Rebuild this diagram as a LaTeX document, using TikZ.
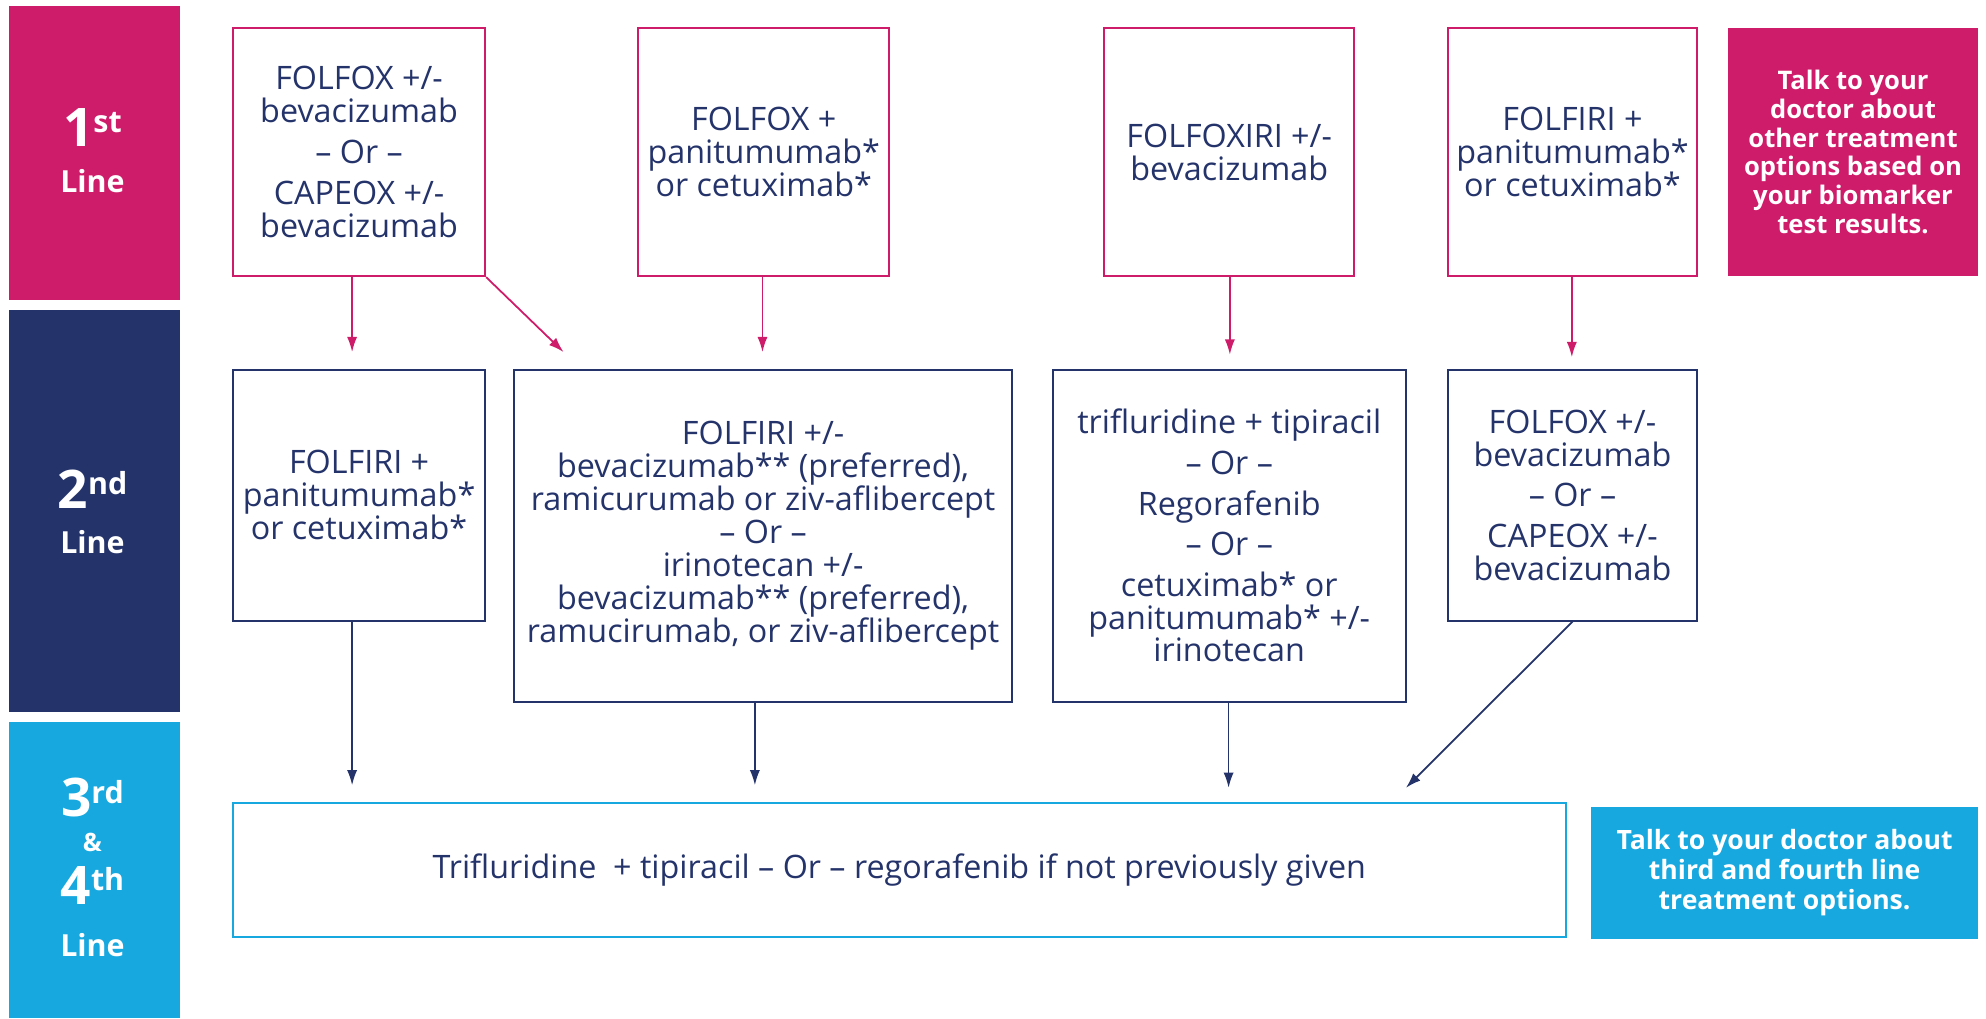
\documentclass[tikz,border=0pt]{standalone}
\usepackage{fontspec}
\setmainfont{Open Sans}
\usetikzlibrary{arrows.meta}
\definecolor{pinkc}{RGB}{207,28,106}
\definecolor{navyc}{RGB}{36,51,106}
\definecolor{bluec}{RGB}{22,168,223}
\tikzset{
  bar/.style={draw=none,inner sep=0pt},
  opt/.style={draw,line width=1.6pt,inner sep=0pt,align=center,text=navyc,
    font=\fontsize{25.5}{26}\selectfont},
  pinkbox/.style={opt,draw=pinkc},
  navybox/.style={opt,draw=navyc},
  bluebox/.style={opt,draw=bluec},
  note/.style={inner sep=0pt,align=center,text=white,
    font=\bfseries\fontsize{20.2}{22.6}\selectfont},
  lbl/.style={text=white,inner sep=0pt,align=center},
  pinkarrow/.style={draw=pinkc,line width=1.4pt,-{Latex[length=12pt,width=8pt]}},
  navyarrow/.style={draw=navyc,line width=1.4pt,-{Latex[length=12pt,width=8pt]}},
}
\newcommand{\ordlbl}[2]{{\bfseries\fontsize{42}{42}\selectfont #1\raisebox{11pt}{\fontsize{24}{24}\selectfont #2}}}
\newcommand{\linelbl}{{\bfseries\fontsize{24}{24}\selectfont Line}}
\begin{document}
\begin{tikzpicture}[x=1pt,y=-1pt]
\useasboundingbox (0,0) rectangle (1568,804);
% left bars
\node[bar,fill=pinkc,minimum width=135pt,minimum height=232pt] (b1) at (74.5,121) {};
\node[bar,fill=navyc,minimum width=135pt,minimum height=317pt] (b2) at (74.5,403.5) {};
\node[bar,fill=bluec,minimum width=135pt,minimum height=234pt] (b3) at (74.5,687) {};
\node[lbl] (l1a) at (73,101) {\ordlbl{1}{st}};
\node[lbl] (l1b) at (73,143) {\linelbl};
\node[lbl] (l2a) at (73,386) {\ordlbl{2}{nd}};
\node[lbl] (l2b) at (73,428) {\linelbl};
\node[lbl] (l3a) at (73,630) {\ordlbl{3}{rd}};
\node[lbl] (l3amp) at (73,665) {\bfseries\fontsize{20}{20}\selectfont\&};
\node[lbl] (l4a) at (73,699) {\ordlbl{4}{th}};
\node[lbl] (l4b) at (73,746) {\linelbl};
% row 1
\node[pinkbox,minimum width=199pt,minimum height=196pt] (A) at (283.5,120)
  {FOLFOX +/-\\bevacizumab\\[6.5pt]– Or –\\[6.5pt]CAPEOX +/-\\bevacizumab};
\node[pinkbox,minimum width=198pt,minimum height=196pt] (B) at (603,120)
  {FOLFOX +\\panitumumab*\\or cetuximab*};
\node[pinkbox,minimum width=197pt,minimum height=196pt] (C) at (970.5,120)
  {FOLFOXIRI +/-\\bevacizumab};
\node[pinkbox,minimum width=197pt,minimum height=196pt] (D) at (1241.5,120)
  {FOLFIRI +\\panitumumab*\\or cetuximab*};
\node[note,fill=pinkc,minimum width=198pt,minimum height=196pt] (N1) at (1463,120)
  {Talk to your\\doctor about\\other treatment\\options based on\\your biomarker\\test results.};
% row 2
\node[navybox,minimum width=199pt,minimum height=198pt] (E) at (283.5,391)
  {FOLFIRI +\\panitumumab*\\or cetuximab*};
\node[navybox,minimum width=393pt,minimum height=262pt] (F) at (602.5,423)
  {FOLFIRI +/-\\bevacizumab** (preferred),\\ramicurumab or ziv-aflibercept\\– Or –\\irinotecan +/-\\bevacizumab** (preferred),\\ramucirumab, or ziv-aflibercept};
\node[navybox,minimum width=279pt,minimum height=262pt] (G) at (970.5,423)
  {trifluridine + tipiracil\\[6pt]– Or –\\[6pt]Regorafenib\\[6pt]– Or –\\[6pt]cetuximab* or\\panitumumab* +/-\\irinotecan};
\node[navybox,minimum width=197pt,minimum height=198pt] (H) at (1241.5,391)
  {FOLFOX +/-\\bevacizumab\\[6pt]– Or –\\[6pt]CAPEOX +/-\\bevacizumab};
% row 3
\node[bluebox,minimum width=1052pt,minimum height=106pt] (I) at (710,687)
  {Trifluridine\ \ + tipiracil – Or – regorafenib if not previously given};
\node[note,fill=bluec,minimum width=306pt,minimum height=104pt,
  font=\bfseries\fontsize{21}{24}\selectfont] (N3) at (1409,689)
  {Talk to your doctor about\\third and fourth line\\treatment options.};
% arrows
\coordinate (a1) at (278,278);
\coordinate (a2) at (445,278);
\coordinate (a3) at (602,278);
\coordinate (a4) at (971,280);
\coordinate (a5) at (1241,282);
\draw[pinkarrow] (A.south -| a1) -- (a1);
\draw[pinkarrow] (A.south east) -- (a2);
\draw[pinkarrow] (B.south -| a3) -- (a3);
\draw[pinkarrow] (C.south -| a4) -- (a4);
\draw[pinkarrow] (D.south -| a5) -- (a5);
\coordinate (c1) at (278,620);
\coordinate (c2) at (596,620);
\coordinate (c3) at (970,622);
\coordinate (c4) at (1110,622);
\draw[navyarrow] (E.south -| c1) -- (c1);
\draw[navyarrow] (F.south -| c2) -- (c2);
\draw[navyarrow] (G.south -| c3) -- (c3);
\draw[navyarrow] (H.south) -- (c4);
\end{tikzpicture}
\end{document}
